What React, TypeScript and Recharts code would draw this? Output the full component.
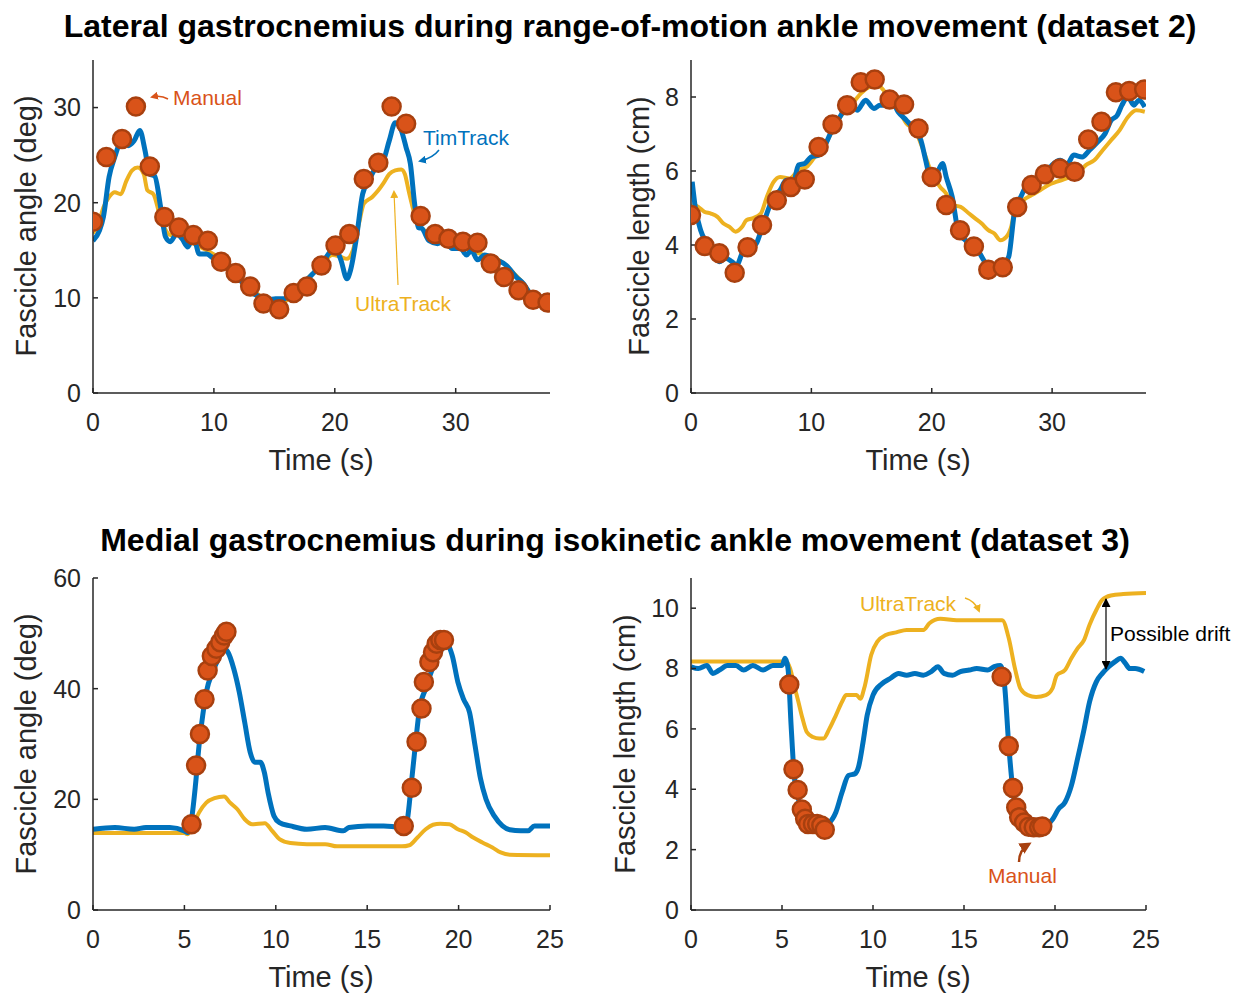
import React from "react";
import { ComposedChart, Line, Scatter, XAxis, YAxis } from "recharts";

type Pt = [number, number];

const FONT = '"Liberation Sans", Arial, Helvetica, sans-serif';
const BLUE = "#0072BD";
const YELLOW = "#EDB120";
const ORANGE = "#D95319";
const EDGE = "#A8400F";
const INK = "#262626";

// ---- dataset 2, lateral gastrocnemius: fascicle angle (deg) vs time (s)
const latAngleTim: Pt[] = [
  [0, 16.0], [0.54, 17.1], [0.86, 18.5], [1.33, 22.7], [1.8, 24.8], [2.44, 26.7], [2.9, 26.0], [3.4, 26.5],
  [3.87, 27.6], [4.3, 25.5], [4.7, 23.0], [5.1, 22.8], [5.6, 19.5], [6.0, 16.4], [6.4, 15.9], [6.9, 16.7],
  [7.37, 16.2], [7.84, 15.35], [8.3, 16.4], [8.8, 14.6], [9.4, 14.6], [10.06, 14.1], [10.7, 14.0], [11.3, 13.25],
  [11.97, 12.2], [12.6, 11.2], [13.2, 10.5], [13.9, 10.1], [14.5, 9.8], [15.1, 9.9], [15.8, 9.9], [16.4, 10.5],
  [17.0, 11.2], [17.7, 11.9], [18.3, 12.7], [18.95, 13.6], [19.6, 14.8], [20.06, 15.1], [20.5, 14.0], [21.0, 12.0],
  [21.3, 12.9], [21.8, 16.4], [22.3, 20.9], [22.8, 22.3], [23.4, 23.7], [24.0, 24.4], [24.5, 26.5], [25.0, 28.4],
  [25.5, 27.6], [25.9, 25.8], [26.25, 24.1], [26.6, 19.9], [26.9, 17.4], [27.2, 17.3], [27.8, 16.0], [28.5, 15.7],
  [29.1, 16.0], [29.7, 15.2], [30.4, 15.2], [30.9, 14.5], [31.3, 15.0], [31.8, 14.0], [32.4, 14.5], [33.2, 14.1],
  [34.2, 13.4], [35.0, 12.2], [35.6, 11.5], [36.25, 10.3], [36.7, 9.9], [37.2, 10.1], [37.7, 10.1],
];
const latAngleUltra: Pt[] = [
  [0, 16.8], [0.5, 18.0], [0.86, 19.5], [1.33, 20.6], [1.8, 21.1], [2.3, 20.9], [2.76, 22.3], [3.24, 23.4],
  [3.7, 23.7], [4.2, 23.0], [4.5, 21.3], [5.0, 20.9], [5.5, 18.8], [5.9, 17.4], [6.4, 16.6], [7.0, 16.6],
  [7.8, 16.0], [8.5, 15.6], [9.4, 15.0], [10.2, 14.4], [11.0, 13.8], [11.8, 12.8], [12.6, 11.6], [13.4, 10.6],
  [14.2, 9.9], [15.0, 9.4], [15.6, 9.3], [16.3, 10.2], [17.0, 11.0], [17.7, 12.0], [18.4, 12.8], [19.1, 13.8],
  [19.8, 14.5], [20.5, 14.3], [21.0, 14.1], [21.5, 15.0], [22.0, 17.8], [22.4, 19.9], [23.1, 20.6], [23.6, 21.3],
  [24.0, 22.0], [24.5, 23.0], [25.0, 23.4], [25.5, 23.5], [25.8, 23.0], [26.1, 21.3], [26.6, 18.8], [26.9, 17.8],
  [27.5, 17.0], [28.3, 16.4], [29.2, 16.0], [30.0, 15.6], [30.8, 15.2], [31.6, 14.8], [32.4, 14.5], [33.2, 14.2],
  [34.0, 13.6], [34.8, 12.6], [35.6, 11.5], [36.3, 10.3], [37.0, 9.6], [37.7, 9.1],
];
const latAngleManual: Pt[] = [
  [0, 18.0], [1.1, 24.8], [2.4, 26.7], [3.55, 30.1], [4.7, 23.8], [5.9, 18.5], [7.1, 17.4], [8.3, 16.6],
  [9.5, 16.0], [10.6, 13.8], [11.8, 12.6], [13.0, 11.2], [14.1, 9.4], [15.4, 8.8], [16.6, 10.5], [17.7, 11.2],
  [18.9, 13.4], [20.06, 15.5], [21.2, 16.7], [22.4, 22.5], [23.6, 24.2], [24.7, 30.1], [25.9, 28.3], [27.1, 18.6],
  [28.3, 16.7], [29.4, 16.2], [30.6, 15.9], [31.8, 15.8], [32.9, 13.6], [34.0, 12.2], [35.2, 10.8], [36.4, 9.8],
  [37.6, 9.5],
];

// ---- dataset 2: fascicle length (cm)
const latLengthTim: Pt[] = [
  [0.1, 5.71], [0.35, 5.03], [0.8, 4.4], [1.3, 4.05], [1.83, 3.78], [2.35, 3.55], [2.9, 3.64], [3.4, 3.55],
  [3.8, 3.46], [4.25, 3.78], [4.8, 4.05], [5.3, 4.0], [5.8, 4.36], [6.3, 4.85], [6.85, 5.3], [7.4, 5.48],
  [7.9, 5.75], [8.4, 5.53], [8.93, 6.16], [9.45, 6.2], [9.97, 6.38], [10.66, 6.43], [11.2, 6.74], [11.7, 7.1],
  [12.2, 7.37], [12.7, 7.64], [13.25, 7.91], [13.8, 7.64], [14.5, 7.91], [15.2, 7.69], [15.7, 7.78], [16.2, 7.78],
  [16.7, 7.87], [17.2, 7.6], [17.9, 7.37], [18.6, 7.1], [19.1, 6.83], [19.5, 6.29], [19.8, 5.93], [20.35, 5.93],
  [20.9, 6.2], [21.2, 5.84], [21.7, 5.3], [22.25, 4.31], [22.8, 4.13], [23.3, 3.96], [23.8, 3.87], [24.3, 3.6],
  [24.85, 3.37], [25.4, 3.33], [25.9, 3.42], [26.4, 3.69], [26.9, 4.94], [27.4, 5.3], [27.96, 5.66], [28.5, 5.8],
  [29.0, 5.71], [29.5, 5.93], [30.0, 6.16], [30.7, 6.29], [31.2, 6.16], [31.8, 6.43], [32.5, 6.38], [33.1, 6.56],
  [33.8, 6.79], [34.4, 7.01], [34.9, 7.37], [35.4, 7.5], [35.8, 7.78], [36.3, 8.0], [36.8, 7.78], [37.2, 7.91],
  [37.7, 7.73],
];
const latLengthUltra: Pt[] = [
  [0.1, 5.12], [0.6, 5.03], [1.1, 4.9], [1.66, 4.85], [2.2, 4.76], [2.7, 4.58], [3.2, 4.49], [3.7, 4.36],
  [4.25, 4.49], [4.6, 4.67], [5.1, 4.72], [5.8, 4.85], [6.3, 5.3], [6.85, 5.7], [7.4, 5.84], [8.2, 5.8],
  [8.93, 6.02], [9.6, 6.11], [10.3, 6.38], [11.0, 6.6], [11.6, 7.0], [12.2, 7.35], [12.7, 7.6], [13.4, 7.82],
  [14.1, 8.09], [14.8, 8.27], [15.5, 8.31], [16.0, 8.18], [16.5, 7.91], [17.2, 7.69], [17.9, 7.28], [18.6, 7.1],
  [19.3, 6.56], [20.0, 5.93], [20.7, 5.57], [21.2, 5.39], [21.7, 5.08], [22.4, 5.03], [23.1, 4.85], [23.6, 4.72],
  [24.15, 4.58], [24.7, 4.4], [25.2, 4.31], [25.7, 4.13], [26.2, 4.22], [26.6, 4.49], [26.9, 4.94], [27.6, 5.21],
  [28.3, 5.35], [29.0, 5.48], [29.7, 5.62], [30.4, 5.71], [31.2, 5.8], [32.1, 5.93], [32.8, 6.16], [33.5, 6.29],
  [34.2, 6.56], [34.9, 6.83], [35.6, 7.1], [36.3, 7.46], [37.0, 7.64], [37.7, 7.6],
];
const latLengthManual: Pt[] = [
  [0, 4.81], [1.14, 3.97], [2.35, 3.78], [3.63, 3.25], [4.7, 3.94], [5.9, 4.54], [7.13, 5.21], [8.3, 5.57],
  [9.45, 5.77], [10.6, 6.65], [11.76, 7.26], [12.97, 7.78], [14.1, 8.4], [15.26, 8.47], [16.5, 7.93], [17.7, 7.8],
  [18.9, 7.15], [20.0, 5.84], [21.2, 5.08], [22.35, 4.4], [23.5, 3.96], [24.7, 3.33], [25.9, 3.4], [27.1, 5.03],
  [28.3, 5.62], [29.4, 5.91], [30.65, 6.07], [31.87, 5.98], [33.0, 6.85], [34.1, 7.33], [35.3, 8.13], [36.4, 8.16],
  [37.65, 8.2],
];

// ---- dataset 3, medial gastrocnemius: fascicle angle (deg)
const medAngleTim: Pt[] = [
  [0, 14.6], [1.2, 14.9], [2.25, 14.6], [2.9, 14.9], [4.2, 14.9], [5.0, 14.3], [5.18, 14.0], [5.39, 16.4],
  [5.6, 22.4], [5.8, 29.7], [6.0, 35.1], [6.2, 39.4], [6.54, 43.0], [6.86, 45.4], [7.17, 47.2], [7.38, 46.6],
  [7.7, 43.6], [8.0, 39.4], [8.3, 33.9], [8.6, 28.5], [8.85, 26.7], [9.16, 26.7], [9.37, 24.9], [9.58, 21.2],
  [9.9, 17.0], [10.2, 15.8], [10.8, 15.2], [11.7, 14.6], [12.7, 14.9], [13.7, 14.3], [14.0, 14.9], [15.0, 15.2],
  [15.9, 15.2], [16.8, 14.9], [17.0, 14.6], [17.2, 16.4], [17.4, 22.4], [17.65, 30.3], [17.86, 36.3], [18.2, 40.0],
  [18.5, 43.0], [18.8, 45.4], [19.1, 47.2], [19.4, 47.8], [19.65, 46.0], [19.96, 41.2], [20.27, 38.1], [20.6, 35.7],
  [20.9, 29.7], [21.2, 23.7], [21.5, 20.0], [21.95, 17.0], [22.4, 15.2], [22.8, 14.5], [23.4, 14.3], [23.8, 14.3],
  [24.15, 15.2], [25, 15.2],
];
const medAngleUltra: Pt[] = [
  [0, 13.9], [5.0, 13.9], [5.18, 13.7], [5.5, 15.5], [5.8, 17.6], [6.2, 19.4], [6.65, 20.2], [7.17, 20.5],
  [7.5, 19.4], [7.9, 18.2], [8.3, 16.4], [8.7, 15.5], [9.4, 15.7], [9.8, 14.3], [10.2, 12.8], [10.8, 12.1],
  [11.7, 11.9], [12.7, 11.9], [13.35, 11.5], [14.8, 11.5], [16.9, 11.5], [17.3, 11.7], [17.75, 13.1], [18.2, 14.6],
  [18.6, 15.4], [19.0, 15.6], [19.5, 15.5], [19.96, 14.6], [20.4, 14.0], [20.8, 13.1], [21.3, 12.2], [21.85, 11.3],
  [22.3, 10.4], [22.8, 10.0], [25, 9.9],
];
const medAngleManual: Pt[] = [
  [5.39, 15.5], [5.64, 26.1], [5.85, 31.8], [6.1, 38.1], [6.27, 43.3], [6.5, 45.9], [6.75, 47.2], [6.96, 48.4],
  [7.17, 49.6], [7.3, 50.3], [17.0, 15.2], [17.44, 22.1], [17.7, 30.4], [17.97, 36.4], [18.1, 41.2], [18.4, 44.8],
  [18.6, 46.6], [18.8, 48.1], [19.0, 48.8], [19.2, 48.8],
];

// ---- dataset 3: fascicle length (cm)
const medLengthTim: Pt[] = [
  [0, 8.06], [0.4, 8.0], [0.87, 8.1], [1.2, 7.84], [1.56, 7.95], [2.0, 8.1], [2.47, 8.1], [2.9, 7.95],
  [3.4, 8.1], [3.96, 7.95], [4.5, 8.1], [5.0, 8.1], [5.17, 8.34], [5.33, 8.0], [5.5, 6.12], [5.67, 4.46],
  [5.9, 3.68], [6.13, 3.24], [6.5, 3.0], [6.8, 2.9], [7.28, 2.82], [7.6, 2.9], [7.96, 3.24], [8.3, 3.9],
  [8.65, 4.46], [9.0, 4.51], [9.2, 4.73], [9.45, 5.55], [9.68, 6.45], [10.0, 7.12], [10.5, 7.5], [10.94, 7.67],
  [11.4, 7.84], [11.85, 7.78], [12.3, 7.84], [12.77, 7.78], [13.2, 7.9], [13.57, 8.06], [13.9, 7.84], [14.37, 7.78],
  [14.8, 7.9], [15.3, 7.95], [15.7, 8.0], [16.3, 7.95], [16.66, 8.06], [17.0, 8.1], [17.23, 7.45], [17.46, 5.45],
  [17.7, 3.9], [17.9, 3.24], [18.26, 3.07], [18.7, 2.96], [19.15, 2.85], [19.5, 2.8], [19.86, 3.0], [20.2, 3.35],
  [20.55, 3.57], [20.9, 4.12], [21.24, 5.01], [21.6, 6.0], [21.9, 6.9], [22.27, 7.56], [22.6, 7.84], [22.95, 8.06],
  [23.3, 8.23], [23.6, 8.34], [23.87, 8.17], [24.1, 8.0], [24.4, 8.0], [24.9, 7.9],
];
const medLengthUltra: Pt[] = [
  [0, 8.23], [5.2, 8.23], [5.45, 8.0], [5.67, 7.45], [5.9, 6.9], [6.13, 6.34], [6.36, 5.9], [6.7, 5.73],
  [7.05, 5.68], [7.28, 5.68], [7.6, 6.0], [7.96, 6.45], [8.3, 6.9], [8.53, 7.12], [9.1, 7.12], [9.3, 7.0],
  [9.56, 7.45], [9.9, 8.45], [10.25, 8.9], [10.7, 9.11], [11.28, 9.2], [11.85, 9.28], [12.77, 9.28], [13.1, 9.5],
  [13.7, 9.65], [14.6, 9.6], [15.5, 9.6], [16.66, 9.6], [17.1, 9.6], [17.46, 9.0], [17.8, 8.0], [18.1, 7.34],
  [18.5, 7.12], [18.96, 7.06], [19.5, 7.12], [19.86, 7.34], [20.1, 7.78], [20.55, 7.95], [20.9, 8.34], [21.24, 8.67],
  [21.6, 8.95], [21.9, 9.45], [22.27, 9.94], [22.6, 10.28], [23.07, 10.42], [23.75, 10.47], [25, 10.5],
];
const medLengthManual: Pt[] = [
  [5.4, 7.47], [5.63, 4.66], [5.86, 3.98], [6.09, 3.33], [6.27, 3.02], [6.43, 2.85], [6.7, 2.85], [6.93, 2.85],
  [7.16, 2.8], [7.35, 2.66], [17.07, 7.73], [17.46, 5.43], [17.69, 4.04], [17.87, 3.4], [18.03, 3.07], [18.3, 2.9],
  [18.56, 2.76], [18.83, 2.74], [19.13, 2.74], [19.3, 2.77],
];

const ticksTime2 = [0, 10, 20, 30];
const ticksTime3 = [0, 5, 10, 15, 20, 25];
const ticksAngle2 = [0, 10, 20, 30];
const ticksLength2 = [0, 2, 4, 6, 8];
const ticksAngle3 = [0, 20, 40, 60];
const ticksLength3 = [0, 2, 4, 6, 8, 10];

const toRows = (pts: Pt[]) => pts.map(([t, v]) => ({ t, v }));

const ManualDot = (props: any) => {
  const { cx, cy } = props;
  if (cx == null || cy == null) return null;
  return <circle cx={cx} cy={cy} r={9} fill={ORANGE} stroke={EDGE} strokeWidth={2.5} />;
};

type PanelProps = {
  left: number;
  top: number;
  width: number;
  height: number;
  yAxisWidth: number;
  xAxisHeight: number;
  xMax: number;
  xTicks: number[];
  yMax: number;
  yTicks: number[];
  tim: Pt[];
  ultra: Pt[];
  manual: Pt[];
};

function Panel(p: PanelProps) {
  const tickStyle = { fill: INK, fontSize: 25, fontFamily: FONT };
  const axisStyle = { stroke: INK, strokeWidth: 1.5 };
  return (
    <div style={{ position: "absolute", left: p.left, top: p.top }}>
      <ComposedChart width={p.width} height={p.height} margin={{ top: 20, right: 30, left: 0, bottom: 0 }}>
        <XAxis
          type="number"
          dataKey="t"
          domain={[0, p.xMax]}
          ticks={p.xTicks}
          allowDataOverflow
          height={p.xAxisHeight}
          tickSize={-5}
          tickMargin={25}
          tick={tickStyle}
          axisLine={axisStyle}
          tickLine={axisStyle}
          interval={0}
        />
        <YAxis
          type="number"
          dataKey="v"
          domain={[0, p.yMax]}
          ticks={p.yTicks}
          allowDataOverflow
          width={p.yAxisWidth}
          tickSize={-5}
          tickMargin={17}
          tick={tickStyle}
          axisLine={axisStyle}
          tickLine={axisStyle}
          interval={0}
        />
        <Scatter data={toRows(p.manual)} dataKey="v" fill={ORANGE} shape={ManualDot} isAnimationActive={false} />
        <Line
          data={toRows(p.ultra)}
          dataKey="v"
          type="monotone"
          stroke={YELLOW}
          strokeWidth={4}
          dot={false}
          activeDot={false}
          isAnimationActive={false}
        />
        <Line
          data={toRows(p.tim)}
          dataKey="v"
          type="monotone"
          stroke={BLUE}
          strokeWidth={5}
          dot={false}
          activeDot={false}
          isAnimationActive={false}
        />
      </ComposedChart>
    </div>
  );
}

function Overlay() {
  const yLabel = (x: number, y: number, text: string) => (
    <text
      x={x}
      y={y}
      transform={`rotate(-90 ${x} ${y})`}
      textAnchor="middle"
      dominantBaseline="central"
      fontSize={29}
      fill={INK}
    >
      {text}
    </text>
  );
  const xLabel = (x: number, y: number) => (
    <text x={x} y={y} textAnchor="middle" fontSize={29} fill={INK}>
      Time (s)
    </text>
  );
  return (
    <svg
      width={1251}
      height={993}
      style={{ position: "absolute", left: 0, top: 0, pointerEvents: "none", fontFamily: FONT }}
    >
      <defs>
        <marker id="hOrange" markerWidth="8" markerHeight="8" refX="6" refY="4" orient="auto" markerUnits="userSpaceOnUse">
          <path d="M0,0 L8,4 L0,8 z" fill={ORANGE} />
        </marker>
        <marker id="hBlue" markerWidth="8" markerHeight="8" refX="6" refY="4" orient="auto" markerUnits="userSpaceOnUse">
          <path d="M0,0 L8,4 L0,8 z" fill={BLUE} />
        </marker>
        <marker id="hYellow" markerWidth="8" markerHeight="8" refX="6" refY="4" orient="auto" markerUnits="userSpaceOnUse">
          <path d="M0,0 L8,4 L0,8 z" fill={YELLOW} />
        </marker>
        <marker id="hBig" markerWidth="12" markerHeight="12" refX="9" refY="6" orient="auto" markerUnits="userSpaceOnUse">
          <path d="M0,0 L12,6 L0,12 z" fill="#A8400F" />
        </marker>
        <marker id="hBlack" markerWidth="9" markerHeight="9" refX="8" refY="4.5" orient="auto-start-reverse" markerUnits="userSpaceOnUse">
          <path d="M0,0 L9,4.5 L0,9 z" fill="#000" />
        </marker>
      </defs>

      <text x={630} y={37} textAnchor="middle" fontSize={32} fontWeight="bold" fill="#000">
        Lateral gastrocnemius during range-of-motion ankle movement (dataset 2)
      </text>
      <text x={615} y={551} textAnchor="middle" fontSize={32} fontWeight="bold" fill="#000">
        Medial gastrocnemius during isokinetic ankle movement (dataset 3)
      </text>

      {yLabel(26, 226, "Fascicle angle (deg)")}
      {yLabel(639, 226, "Fascicle length (cm)")}
      {yLabel(26, 744, "Fascicle angle (deg)")}
      {yLabel(625, 744, "Fascicle length (cm)")}
      {xLabel(321, 470)}
      {xLabel(918, 470)}
      {xLabel(321, 987)}
      {xLabel(918, 987)}

      {/* dataset 2 annotations */}
      <text x={173} y={105} fontSize={21} fill={ORANGE}>Manual</text>
      <path d="M168,99 Q161,95 152,97" stroke={ORANGE} strokeWidth={1.5} fill="none" markerEnd="url(#hOrange)" />
      <text x={423} y={145} fontSize={21} fill={BLUE}>TimTrack</text>
      <path d="M439,150 Q433,158 420,161" stroke={BLUE} strokeWidth={1.5} fill="none" markerEnd="url(#hBlue)" />
      <text x={355} y={311} fontSize={21} fill={YELLOW}>UltraTrack</text>
      <path d="M398,285 L394,192" stroke={YELLOW} strokeWidth={1.2} fill="none" markerEnd="url(#hYellow)" />

      {/* dataset 3 annotations */}
      <text x={860} y={611} fontSize={21} fill={YELLOW}>UltraTrack</text>
      <path d="M965,598 Q975,601 979,611" stroke={YELLOW} strokeWidth={1.5} fill="none" markerEnd="url(#hYellow)" />
      <text x={988} y={883} fontSize={21} fill={ORANGE}>Manual</text>
      <path d="M1019,862 Q1019,850 1029,844" stroke="#A8400F" strokeWidth={2.5} fill="none" markerEnd="url(#hBig)" />
      <text x={1110} y={641} fontSize={21} fill="#000">Possible drift</text>
      <line x1={1106} y1={599} x2={1106} y2={669} stroke="#000" strokeWidth={1.2} markerStart="url(#hBlack)" markerEnd="url(#hBlack)" />
    </svg>
  );
}

export default function App() {
  return (
    <div
      style={{
        position: "relative",
        width: 1251,
        height: 993,
        marginLeft: -8,
        marginTop: -8,
        background: "#fff",
        fontFamily: FONT,
        overflow: "hidden",
      }}
    >
      <Panel
        left={0} top={40} width={580} height={440} yAxisWidth={93} xAxisHeight={87}
        xMax={37.8} xTicks={ticksTime2} yMax={35} yTicks={ticksAngle2}
        tim={latAngleTim} ultra={latAngleUltra} manual={latAngleManual}
      />
      <Panel
        left={600} top={40} width={576} height={440} yAxisWidth={91} xAxisHeight={87}
        xMax={37.8} xTicks={ticksTime2} yMax={9} yTicks={ticksLength2}
        tim={latLengthTim} ultra={latLengthUltra} manual={latLengthManual}
      />
      <Panel
        left={0} top={558} width={580} height={435} yAxisWidth={93} xAxisHeight={83}
        xMax={25} xTicks={ticksTime3} yMax={60} yTicks={ticksAngle3}
        tim={medAngleTim} ultra={medAngleUltra} manual={medAngleManual}
      />
      <Panel
        left={600} top={558} width={576} height={435} yAxisWidth={91} xAxisHeight={83}
        xMax={25} xTicks={ticksTime3} yMax={11} yTicks={ticksLength3}
        tim={medLengthTim} ultra={medLengthUltra} manual={medLengthManual}
      />
      <Overlay />
    </div>
  );
}
